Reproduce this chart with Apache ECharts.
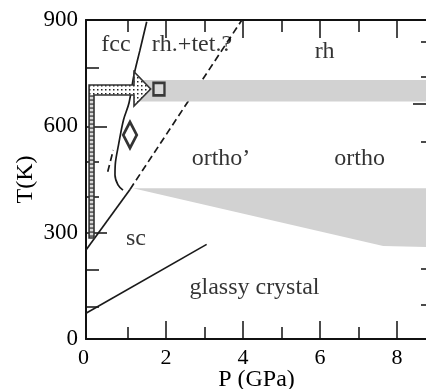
<!DOCTYPE html>
<html><head><meta charset="utf-8">
<script src="https://cdn.jsdelivr.net/npm/echarts@6/dist/echarts.min.js"></script>
<style>html,body{margin:0;padding:0;background:#fff}#c{width:426px;height:389px}</style>
</head><body><div id="c"></div>
<script>
// ---- axis ticks / labels ----
const xLabels = [0, 2, 4, 6, 8];
const xTickMajor = [2, 4, 6, 8];
const xTickMinor = [1, 3, 5, 7];
const yLabels = [0, 300, 600, 900];
const yTickMajor = [300, 600];
const yTickMinor = [90, 195, 400, 500, 765];
const rTickMajor = [359, 665];
const rTickMinor = [96, 199, 406, 557, 740, 839];

// ---- phase boundaries [P (GPa), T (K)] ----
const fccBoundary = [[1.497,895],[1.322,815],[1.167,745],[1.037,666],[0.894,618],[0.764,547],[0.686,499],[0.673,463],[0.751,435],[0.881,420]];
const scBoundary = [[-0.08,251],[1.063,422]];
const orthoBoundaryDashed = [[1.063,422],[3.97,900]];
const shortDashed = [[0.484,472],[0.629,533]];
const glassyBoundary = [[-0.08,72.5],[3.055,267]];

// ---- shaded regions ----
const upperBand = [[1.22,670],[8.78,670],[8.78,731],[1.22,731]];
const lowerRegion = [[1.141,425],[8.78,425],[8.78,259.5],[7.642,262.4]];

// ---- arrow ----
const arrowVertical = [[0,285],[0,688.4],[0.128,688.4],[0.128,285]];
const arrowHead = [[0,688.4],[0,716.6],[1.167,716.6],[1.167,754.1],[1.60,705.3],[1.167,657.4],[1.167,688.4]];
const arrowOutline = [[0,285],[0,716.6],[1.167,716.6],[1.167,754.1],[1.60,705.3],[1.167,657.4],[1.167,688.4],[0.128,688.4],[0.128,285]];

// ---- markers ----
const squarePoint = [[1.816,704.8]];
const diamondPoint = [[1.063,575.6]];

// ---- region labels ----
const labelNames = ['fcc', 'rh.+tet.?', 'rh', 'ortho\u2019', 'ortho', 'sc', 'glassy crystal'];
const labelP = [0.699, 2.673, 6.12, 3.427, 7.03, 1.219, 4.297];
const labelT = [829, 829, 810, 508, 508, 283, 145];

const FONT = 'Liberation Serif';
const INK = '#000';

function makePattern(kind) {
  const c = document.createElement('canvas');
  const g = c.getContext('2d');
  if (kind === 'dots') {
    c.width = 4; c.height = 4;
    g.fillStyle = '#fff'; g.fillRect(0,0,4,4);
    g.fillStyle = '#222'; g.fillRect(1,1,1.5,1.5);
  } else {
    c.width = 6; c.height = 4;
    g.fillStyle = '#666'; g.fillRect(0,0,6,4);
    g.fillStyle = '#d8d8d8'; g.fillRect(0,1,6,2.2);
  }
  return c;
}

function poly(points, style, z) {
  return {
    type: 'custom', z: z, silent: true, clip: true,
    data: points, encode: {x: 0, y: 1},
    renderItem: function (params, api) {
      if (params.dataIndex !== 0) return null;
      return {type: 'polygon', shape: {points: points.map(p => api.coord(p))}, style: style};
    }
  };
}

function line(points, dashed, smooth, z) {
  return {
    type: 'line', data: points, showSymbol: false, smooth: smooth, z: z, silent: true,
    lineStyle: {color: '#1a1a1a', width: 1.7, type: dashed ? [7, 4] : 'solid'}
  };
}

function xAx(pos, ticks, len, showLine, labels) {
  return {
    type: 'value', position: pos, min: -0.08, max: 8.78,
    splitLine: {show: false},
    axisLine: {show: showLine, onZero: false, lineStyle: {color: '#111', width: 2}},
    axisTick: {show: true, inside: true, length: len, customValues: ticks, lineStyle: {color: '#111', width: 1.5}},
    axisLabel: labels ? {
      show: true, customValues: labels, margin: 8, color: '#000', fontFamily: FONT, fontSize: 22,
      formatter: v => v === 0 ? '{z|0}' : String(v),
      rich: {z: {fontFamily: FONT, fontSize: 22, color: '#000', padding: [0, 11, 0, 0]}}
    } : {show: false}
  };
}
function yAx(pos, ticks, len, showLine, labels) {
  return {
    type: 'value', position: pos, min: 0, max: 900,
    splitLine: {show: false},
    axisLine: {show: showLine, onZero: false, lineStyle: {color: '#111', width: 2}},
    axisTick: {show: true, inside: true, length: len, customValues: ticks, lineStyle: {color: '#111', width: 1.5}},
    axisLabel: labels ? {show: true, customValues: labels, margin: 8, color: '#000', fontFamily: FONT, fontSize: 23} : {show: false}
  };
}

const xAxes = [
  Object.assign(xAx('bottom', xTickMajor, 18, true, xLabels), {
    name: 'P (GPa)', nameLocation: 'middle', nameGap: 29, nameMoveOverlap: false,
    nameTextStyle: {fontFamily: FONT, fontSize: 24, color: '#000'}
  }),
  xAx('bottom', xTickMinor, 12, false, null),
  xAx('top', xTickMajor, 18, true, null),
  xAx('top', xTickMinor, 12, false, null)
];
const yAxes = [
  Object.assign(yAx('left', yTickMajor, 21, true, yLabels), {
    name: 'T(K)', nameLocation: 'middle', nameGap: 48, nameMoveOverlap: false,
    nameTextStyle: {fontFamily: FONT, fontSize: 24, color: '#000'}
  }),
  yAx('left', yTickMinor, 13, false, null),
  yAx('right', rTickMajor, 14, true, null),
  yAx('right', rTickMinor, 6, false, null)
];

const chart = echarts.init(document.getElementById('c'), null, {renderer: 'canvas'});
chart.setOption({
  animation: false,
  backgroundColor: '#fff',
  grid: {left: 86, top: 20, right: -1, bottom: 50, containLabel: false, outerBoundsMode: 'none'},
  xAxis: xAxes,
  yAxis: yAxes,
  series: [
    line(glassyBoundary, false, false, 2),
    line(scBoundary, false, false, 2),
    line(orthoBoundaryDashed, true, false, 2),
    line(shortDashed, true, false, 2),
    line(fccBoundary, false, 0.35, 2),
    poly(upperBand, {fill: '#d2d2d2'}, 3),
    poly(lowerRegion, {fill: '#d2d2d2'}, 3),
    poly(arrowVertical, {fill: {image: makePattern('ladder'), repeat: 'repeat'}}, 4),
    poly(arrowHead, {fill: {image: makePattern('dots'), repeat: 'repeat'}}, 4),
    poly(arrowOutline, {fill: 'none', stroke: '#333', lineWidth: 1.6}, 5),
    {type: 'scatter', data: squarePoint, symbol: 'rect', symbolSize: [11, 12.5], z: 6, silent: true,
     itemStyle: {color: '#dcdcdc', borderColor: '#111', borderWidth: 2.5}},
    {type: 'scatter', data: diamondPoint, symbol: 'diamond', symbolSize: [13.5, 26], z: 6, silent: true,
     itemStyle: {color: '#fff', borderColor: '#000', borderWidth: 3}},
    {type: 'scatter', z: 7, silent: true, symbolSize: 1, itemStyle: {color: 'rgba(0,0,0,0)'},
     data: labelNames.map((n, i) => ({name: n, value: [labelP[i], labelT[i]]})),
     label: {show: true, position: 'inside', formatter: '{b}', fontFamily: FONT, fontSize: 24, color: INK}}
  ]
});
</script>
</body></html>
